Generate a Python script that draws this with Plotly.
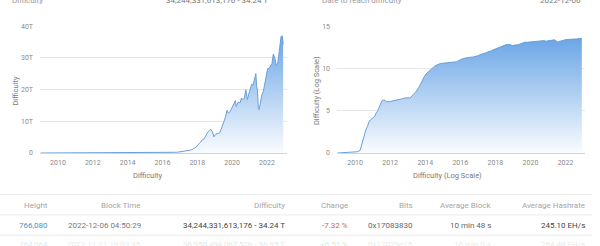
import numpy as np
import plotly.graph_objects as go

# ---------------- data ----------------
dates = [
    "2009-01-03", "2009-12-30", "2010-02-15", "2010-04-15", "2010-05-20", "2010-06-15",
    "2010-07-20", "2010-08-15", "2010-09-15", "2010-10-15", "2010-11-15", "2010-12-15",
    "2011-01-15", "2011-02-15", "2011-03-15", "2011-04-15", "2011-05-15", "2011-06-15",
    "2011-07-15", "2011-08-15", "2011-09-15", "2011-10-15", "2011-11-15", "2011-12-15",
    "2012-01-15", "2012-03-15", "2012-05-15", "2012-07-15", "2012-09-15", "2012-11-15",
    "2013-01-15", "2013-02-15", "2013-03-15", "2013-04-15", "2013-05-15", "2013-06-15",
    "2013-07-15", "2013-08-15", "2013-09-15", "2013-10-15", "2013-11-15", "2013-12-15",
    "2014-01-15", "2014-02-15", "2014-03-15", "2014-04-15", "2014-05-15", "2014-06-15",
    "2014-07-15", "2014-08-15", "2014-09-15", "2014-10-15", "2014-11-15", "2014-12-15",
    "2015-02-15", "2015-04-15", "2015-06-15", "2015-08-15", "2015-10-15", "2015-11-15",
    "2015-12-15", "2016-01-15", "2016-03-15", "2016-05-15", "2016-07-15", "2016-09-15",
    "2016-11-15", "2016-12-15", "2017-01-15", "2017-02-15", "2017-03-15", "2017-04-15",
    "2017-05-15", "2017-06-15", "2017-07-15", "2017-08-15", "2017-09-15", "2017-10-15",
    "2017-11-15", "2017-12-15", "2018-01-15", "2018-02-15", "2018-03-15", "2018-04-15",
    "2018-05-15", "2018-06-15", "2018-07-15", "2018-08-15", "2018-09-15", "2018-10-15",
    "2018-11-15", "2018-12-15", "2019-01-15", "2019-02-15", "2019-03-15", "2019-04-15",
    "2019-05-15", "2019-06-15", "2019-07-15", "2019-08-15", "2019-09-15", "2019-10-15",
    "2019-11-15", "2019-12-15", "2020-01-15", "2020-02-15", "2020-03-10", "2020-03-26",
    "2020-04-15", "2020-05-10", "2020-06-15", "2020-07-15", "2020-08-15", "2020-09-15",
    "2020-10-15", "2020-11-15", "2020-12-15", "2021-01-15", "2021-02-15", "2021-03-15",
    "2021-04-15", "2021-05-13", "2021-05-28", "2021-06-15", "2021-07-03", "2021-07-17",
    "2021-08-15", "2021-09-15", "2021-10-15", "2021-11-15", "2021-12-15", "2022-01-15",
    "2022-02-15", "2022-03-15", "2022-04-15", "2022-05-15", "2022-06-15", "2022-07-15",
    "2022-08-15", "2022-09-15", "2022-10-10", "2022-10-24", "2022-11-06", "2022-11-21",
    "2022-12-06",
]
difficulty = [
    1, 1.18, 1.4, 2.0, 11.5, 23.5,
    181, 623, 1379, 4537, 8078, 12252,
    16307, 22012, 55590, 92347, 244139, 876954,
    1.56e6, 1.86e6, 1.72e6, 1.19e6, 1.08e6, 1.16e6,
    1.3e6, 1.5e6, 1.7e6, 2.0e6, 2.7e6, 3.4e6,
    3.25e6, 3.28e6, 4.37e6, 7.67e6, 11.2e6, 15.6e6,
    26.2e6, 50.8e6, 112.6e6, 267e6, 609e6, 1.18e9,
    2.19e9, 3.13e9, 5.0e9, 8.0e9, 10.45e9, 13.46e9,
    18.7e9, 23.8e9, 29.8e9, 35.98e9, 40.3e9, 40.6e9,
    44.4e9, 47.4e9, 49.4e9, 54.3e9, 62.3e9, 79.1e9,
    103.9e9, 120e9, 158e9, 194e9, 213e9, 225e9,
    254e9, 310e9, 336e9, 440e9, 475e9, 499e9,
    595e9, 711e9, 860e9, 923e9, 1.12e12, 1.36e12,
    1.59e12, 1.93e12, 2.6e12, 3.01e12, 3.46e12, 4.14e12,
    4.3e12, 5.08e12, 5.95e12, 6.72e12, 7.15e12, 7.45e12,
    6.65e12, 5.1e12, 5.88e12, 6.06e12, 6.38e12, 6.38e12,
    7.46e12, 9.06e12, 9.98e12, 11.35e12, 13.5e12, 12.6e12,
    12.97e12, 13.8e12, 14.78e12, 15.55e12, 16.55e12, 14.7e12,
    15.14e12, 16.1e12, 15.78e12, 17.35e12, 16.85e12, 17.35e12,
    19.99e12, 16.85e12, 18.6e12, 20.6e12, 21.7e12, 21.4e12,
    23.1e12, 25.05e12, 21.05e12, 19.93e12, 14.36e12, 13.67e12,
    15.56e12, 18.4e12, 19.3e12, 21.66e12, 24.27e12, 26.64e12,
    26.7e12, 27.55e12, 28.23e12, 31.25e12, 29.9e12, 27.69e12,
    28.35e12, 32.05e12, 35.61e12, 36.84e12, 36.76e12, 36.95e12,
    34.24e12,
]
log_difficulty = np.log10(np.array(difficulty, dtype=float))

table_headers = ["Height", "Block Time", "Difficulty", "Change", "Bits", "Average Block", "Average Hashrate"]
row1 = ["766,080", "2022-12-06 04:50:29", "34,244,331,613,176 - 34.24 T", "-7.32 %", "0x17083830", "10 min 48 s", "245.10 EH/s"]
row2 = ["764,064", "2022-11-21 19:03:35", "36,950,494,067,526 - 36.95 T", "+0.51 %", "0x17079e15", "10 min 0 s", "264.48 EH/s"]

# ---------------- figure ----------------
W, H = 600, 246
LINE = "#6a9fd8"
TOP = "#6ba6e6"
FONT = "Roboto"
TICK = "#8a8a8a"

fig = go.Figure()
for xa, ya, yv in [("x", "y", difficulty), ("x2", "y2", log_difficulty)]:
    fig.add_trace(go.Scatter(
        x=dates, y=yv, xaxis=xa, yaxis=ya, mode="lines",
        line=dict(color=LINE, width=1),
        fill="tozeroy",
        fillgradient=dict(type="vertical",
                          colorscale=[[0, "rgba(255,255,255,1)"], [1, TOP]],
                          start=0, stop=float(np.max(yv))),
        hoverinfo="skip", showlegend=False,
    ))

def px(x):
    return x / W

def py(y):
    return 1 - y / H

ydom = [py(154), py(23)]
axis_common = dict(showgrid=False, showline=True, linecolor="#ccd6eb", linewidth=1,
                   ticks="", tickfont=dict(size=7, color=TICK, family=FONT),
                   ticklabelstandoff=3,
                   dtick="M24", tick0="2010-01-01", tickformat="%Y", zeroline=False)
fig.update_layout(
    width=W, height=H, margin=dict(l=0, r=0, t=0, b=0),
    paper_bgcolor="white", plot_bgcolor="white",
    xaxis=dict(domain=[px(40), px(287)], range=["2008-12-20", "2023-02-25"], **axis_common),
    xaxis2=dict(domain=[px(337), px(585)], range=["2008-12-20", "2023-02-10"], **axis_common),
    yaxis=dict(domain=ydom, range=[0, 40e12], tickvals=[0, 10e12, 20e12, 30e12, 40e12],
               ticktext=["0", "10T", "20T", "30T", "40T"], showgrid=True, gridcolor="#e6e6e6",
               gridwidth=1, zeroline=False, ticks="", ticklabelstandoff=6,
               tickfont=dict(size=7, color=TICK, family=FONT)),
    yaxis2=dict(domain=ydom, anchor="x2", range=[0, 15], tickvals=[0, 5, 10, 15],
                showgrid=True, gridcolor="#e6e6e6", gridwidth=1, zeroline=False, ticks="",
                ticklabelstandoff=6, tickfont=dict(size=7, color=TICK, family=FONT)),
)
fig.layout.xaxis2.anchor = "y2"

ann = []
def text(x, y, s, size=8, color="#666666", xanchor="center", yanchor="middle", angle=0):
    ann.append(dict(x=px(x), y=py(y), xref="paper", yref="paper", text=s, showarrow=False,
                    xanchor=xanchor, yanchor=yanchor, textangle=angle,
                    font=dict(size=size, color=color, family=FONT)))

# axis titles
text(147, 177, "Difficulty", size=7.5, color="#7a7a7a")
text(447, 177, "Difficulty (Log Scale)", size=7.5, color="#7a7a7a")
text(15.5, 90, "Difficulty", size=7.5, angle=-90, color="#7a7a7a")
text(316, 89, "Difficulty (Log Scale)", size=7.5, angle=-90, color="#7a7a7a")

# cut-off header texts at the top
text(10, -4, "Difficulty", size=8, color="#999999", xanchor="left")
text(270, -4, "34,244,331,613,176 - 34.24 T", size=8, color="#777777", xanchor="right")
text(320, -4, "Date to reach difficulty", size=8, color="#999999", xanchor="left")
text(583, -4, "2022-12-06", size=8, color="#777777", xanchor="right")

# table
col_right = [50, 143, 287, 350, 415, 493, 587]
for xr, h in zip(col_right, table_headers):
    text(xr, 208, h, size=8, color="#a5a5a5", xanchor="right")
row1_colors = ["#4a93bd", "#7a7a7a", "#444444", "#e06060", "#666666", "#666666", "#444444"]
for xr, v, c in zip(col_right, row1, row1_colors):
    text(xr, 229, v, size=8, color=c, xanchor="right")
row2_colors = ["#dbeaf4", "#ebebeb", "#e8e8e8", "#d6f0d6", "#ebebeb", "#ebebeb", "#e8e8e8"]
for xr, v, c in zip(col_right, row2, row2_colors):
    text(xr, 249, v, size=8, color=c, xanchor="right")

shapes = []
for yl in [197, 218, 239]:
    shapes.append(dict(type="line", xref="paper", yref="paper", x0=0, x1=px(592),
                       y0=py(yl), y1=py(yl), line=dict(color="#ebebeb", width=1)))

fig.update_layout(annotations=ann, shapes=shapes)
fig.write_html("out.html")
